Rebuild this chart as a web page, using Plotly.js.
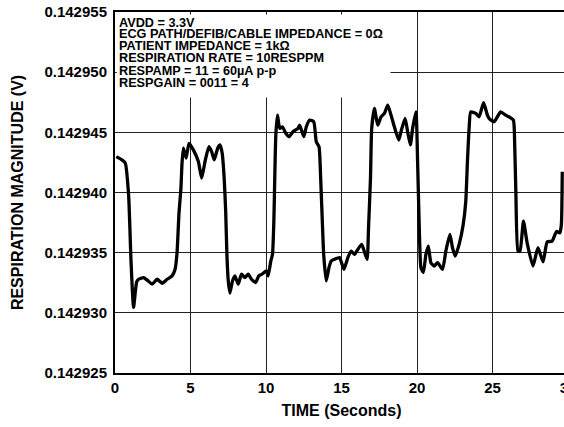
<!DOCTYPE html>
<html>
<head>
<meta charset="utf-8">
<script src="https://cdn.plot.ly/plotly-3.0.1.min.js"></script>
<style>
html,body{margin:0;padding:0;overflow:hidden;background:#fff;}
#chart{width:585px;height:427px;}
</style>
</head>
<body>
<div id="chart"></div>
<script>
// Time in seconds
const timeSec = [0.09,0.46,0.68,0.90,1.06,1.23,1.43,1.56,1.89,2.20,2.46,2.79,3.12,3.45,3.78,3.98,4.11,4.24,4.36,4.44,4.53,4.71,4.90,5.19,5.52,5.74,5.96,6.22,6.40,6.57,6.80,6.95,7.10,7.23,7.33,7.41,7.50,7.61,7.78,7.94,8.16,8.38,8.60,8.82,9.04,9.31,9.52,9.74,10.03,10.14,10.32,10.43,10.52,10.58,10.65,10.76,10.91,11.09,11.31,11.52,11.79,12.12,12.23,12.50,12.67,12.89,13.16,13.33,13.51,13.62,13.73,13.82,13.99,14.17,14.32,14.54,14.87,15.16,15.42,15.64,15.86,16.08,16.34,16.57,16.70,16.79,16.92,17.00,17.18,17.40,17.62,17.84,18.06,18.28,18.50,18.79,18.94,19.21,19.38,19.56,19.71,19.93,20.04,20.15,20.26,20.42,20.59,20.75,20.92,21.14,21.36,21.69,21.91,22.18,22.35,22.53,22.79,23.06,23.23,23.34,23.45,23.56,23.89,24.11,24.41,24.66,24.77,25.10,25.54,25.87,26.09,26.38,26.47,26.55,26.69,26.82,27.05,27.30,27.68,28.01,28.35,28.62,28.95,29.24,29.46,29.56,29.62];
// Respiration magnitude in volts
const magnitudeV = [0.14294298,0.14294271,0.14294244,0.14293982,0.14293431,0.14293045,0.14293255,0.14293279,0.14293293,0.14293265,0.14293238,0.14293279,0.14293246,0.14293279,0.14293307,0.14293362,0.14293502,0.14293833,0.14294023,0.14294246,0.14294368,0.14294285,0.14294409,0.14294354,0.14294257,0.14294120,0.14294257,0.14294381,0.14294340,0.14294271,0.14294368,0.14294395,0.14294326,0.14294120,0.14293844,0.14293486,0.14293265,0.14293164,0.14293265,0.14293307,0.14293238,0.14293321,0.14293293,0.14293321,0.14293279,0.14293252,0.14293307,0.14293321,0.14293348,0.14293307,0.14293431,0.14293486,0.14293761,0.14294120,0.14294478,0.14294643,0.14294533,0.14294546,0.14294492,0.14294464,0.14294505,0.14294533,0.14294560,0.14294464,0.14294546,0.14294602,0.14294588,0.14294422,0.14294381,0.14294120,0.14293761,0.14293486,0.14293265,0.14293376,0.14293431,0.14293445,0.14293459,0.14293362,0.14293459,0.14293513,0.14293486,0.14293527,0.14293569,0.14293486,0.14293445,0.14293707,0.14294120,0.14294533,0.14294698,0.14294560,0.14294629,0.14294657,0.14294726,0.14294643,0.14294546,0.14294436,0.14294505,0.14294616,0.14294505,0.14294395,0.14294533,0.14294670,0.14294257,0.14293707,0.14293376,0.14293335,0.14293486,0.14293555,0.14293417,0.14293389,0.14293417,0.14293362,0.14293513,0.14293651,0.14293541,0.14293472,0.14293569,0.14293734,0.14293926,0.14294257,0.14294533,0.14294670,0.14294657,0.14294629,0.14294746,0.14294643,0.14294616,0.14294588,0.14294670,0.14294643,0.14294629,0.14294602,0.14294395,0.14293982,0.14293513,0.14293513,0.14293761,0.14293577,0.14293389,0.14293541,0.14293424,0.14293589,0.14293596,0.14293676,0.14293665,0.14293734,0.14294172];
const xTicks = [0,5,10,15,20,25,30];
const yTicks = [0.142925,0.142930,0.142935,0.142940,0.142945,0.142950,0.142955];
const noteLines = ["AVDD = 3.3V","ECG PATH/DEFIB/CABLE IMPEDANCE = 0Ω","PATIENT IMPEDANCE = 1kΩ","RESPIRATION RATE = 10RESPPM","RESPAMP = 11 = 60µA p-p","RESPGAIN = 0011 = 4"];

const fontFam = 'Liberation Sans, Arial, Helvetica, sans-serif';
const W = 585, H = 427, ML = 115, MR = 17, MT = 12, MB = 54;
const plotH = H - MT - MB;
const lineCentersPx = [22.5, 34.3, 46, 57.8, 70.5, 82.5];

const trace = {
  x: timeSec, y: magnitudeV, type: 'scatter', mode: 'lines',
  line: {color: '#000', width: 3.3, shape: 'spline', smoothing: 0.5},
  hoverinfo: 'skip'
};

const layout = {
  width: W, height: H,
  margin: {l: ML, r: MR, t: MT, b: MB, pad: 0},
  paper_bgcolor: '#fff', plot_bgcolor: '#fff',
  showlegend: false,
  font: {family: fontFam, color: '#000'},
  xaxis: {
    range: [0, 30], tickvals: xTicks, ticktext: xTicks.map(String),
    showgrid: true, gridcolor: '#222', gridwidth: 1,
    showline: true, linecolor: '#000', linewidth: 2, mirror: true,
    ticks: '', zeroline: false, ticklabeloverflow: 'allow',
    tickfont: {family: fontFam, size: 15, color: '#000', weight: 'bold'},
    title: {text: '<b>TIME (Seconds)</b>', font: {family: fontFam, size: 16, color: '#000'}, standoff: 10}
  },
  yaxis: {
    range: [0.142925, 0.142955], tickvals: yTicks, ticktext: yTicks.map(v => v.toFixed(6)),
    showgrid: true, gridcolor: '#222', gridwidth: 1,
    showline: true, linecolor: '#000', linewidth: 2, mirror: true,
    ticks: '', zeroline: false, ticklabelstandoff: 3,
    tickfont: {family: fontFam, size: 15, color: '#000', weight: 'bold'},
    title: {text: '<b>RESPIRATION MAGNITUDE (V)</b>', font: {family: fontFam, size: 16, color: '#000'}, standoff: 17}
  },
  shapes: [{
    type: 'rect', xref: 'x', yref: 'y', layer: 'above',
    x0: 0.12, x1: 18.24, y0: 0.1429479, y1: 0.1429548,
    fillcolor: '#fff', line: {width: 0}
  }],
  annotations: noteLines.map((s, i) => ({
    xref: 'paper', yref: 'paper', x: 0.004, y: (H - MB - lineCentersPx[i]) / plotH,
    xanchor: 'left', yanchor: 'middle', align: 'left', showarrow: false,
    text: '<b>' + s + '</b>',
    font: {family: fontFam, size: 12.7, color: '#000'}
  }))
};

Plotly.newPlot('chart', [trace], layout, {staticPlot: true, displayModeBar: false});
</script>
</body>
</html>
